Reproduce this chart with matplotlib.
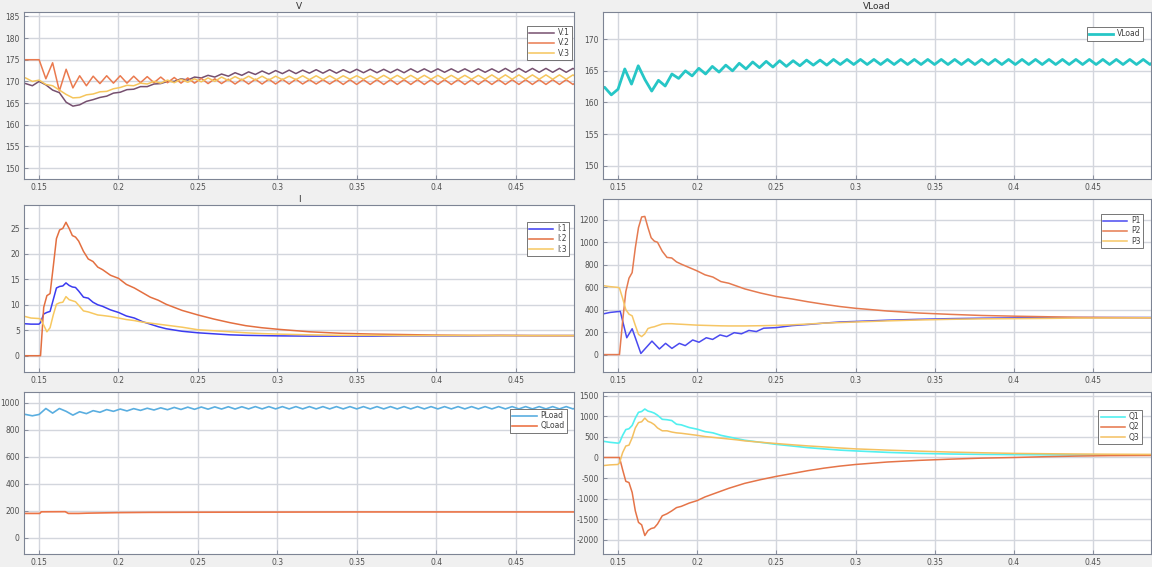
import numpy as np
import matplotlib
matplotlib.use('Agg')
import matplotlib.pyplot as plt

plt.rcParams['axes.unicode_minus'] = False
plt.rcParams['font.family'] = ['DejaVu Sans']

# sample grid for the rippling signals (half a ripple period apart)
t_r = 0.13735 + 0.00425 * np.arange(84)

v1 = [169.8, 169.5, 169.0, 170.0, 169.2, 168.0, 167.4, 165.2, 164.3, 164.6,
      165.4, 165.8, 166.3, 166.6, 167.3, 167.5, 168.1, 168.2, 168.8, 168.8,
      169.4, 169.5, 170.0, 170.0, 170.6, 170.3, 171.0, 170.8, 171.4, 171.0,
      171.7, 171.2, 172.0, 171.4, 172.2, 171.6, 172.4, 171.7, 172.5, 171.8,
      172.6, 171.8, 172.6, 171.9, 172.7, 171.9, 172.7, 171.9, 172.7, 172.0,
      172.8, 172.0, 172.8, 172.0, 172.8, 172.0, 172.8, 172.0, 172.9, 172.1,
      172.9, 172.1, 172.9, 172.1, 172.9, 172.1, 172.9, 172.1, 172.9, 172.1,
      172.9, 172.1, 173.0, 172.1, 173.0, 172.1, 173.0, 172.1, 173.0, 172.1,
      173.0, 172.1, 173.0, 172.1]
v2 = [175.0, 175.0, 175.0, 175.0, 170.6, 174.3, 167.8, 172.8, 168.5, 171.3,
      169.0, 171.2, 169.5, 171.3, 169.6, 171.3, 169.6, 171.2, 169.7, 171.1,
      169.7, 171.0, 169.7, 170.9, 169.6, 170.8, 169.6, 170.7, 169.5, 170.6,
      169.5, 170.5, 169.4, 170.5, 169.4, 170.5, 169.4, 170.5, 169.4, 170.5,
      169.4, 170.5, 169.4, 170.4, 169.4, 170.4, 169.4, 170.4, 169.3, 170.4,
      169.3, 170.4, 169.3, 170.4, 169.3, 170.4, 169.3, 170.4, 169.3, 170.4,
      169.3, 170.4, 169.3, 170.4, 169.3, 170.4, 169.3, 170.4, 169.3, 170.4,
      169.3, 170.4, 169.3, 170.4, 169.3, 170.4, 169.3, 170.4, 169.3, 170.4,
      169.3, 170.4, 169.3, 170.4]
v3 = [171.0, 170.8, 170.0, 170.3, 169.3, 169.0, 168.0, 167.0, 166.2, 166.3,
      166.9, 167.1, 167.6, 167.7, 168.3, 168.6, 169.1, 169.0, 169.6, 169.4,
      170.0, 169.6, 170.3, 169.7, 170.5, 169.8, 170.6, 169.9, 170.8, 170.0,
      171.0, 170.2, 171.1, 170.3, 171.2, 170.3, 171.2, 170.3, 171.2, 170.4,
      171.2, 170.4, 171.3, 170.4, 171.3, 170.4, 171.3, 170.4, 171.3, 170.5,
      171.3, 170.5, 171.3, 170.5, 171.4, 170.5, 171.4, 170.5, 171.4, 170.5,
      171.4, 170.5, 171.4, 170.5, 171.4, 170.5, 171.4, 170.5, 171.4, 170.5,
      171.5, 170.5, 171.5, 170.5, 171.5, 170.5, 171.5, 170.5, 171.5, 170.5,
      171.5, 170.5, 171.5, 170.5]
v_load = [162.0, 162.4, 161.2, 162.1, 165.3, 162.9, 165.8, 163.6, 161.8, 163.5,
          162.6, 164.5, 163.8, 165.0, 164.2, 165.4, 164.5, 165.7, 164.8, 165.9,
          165.0, 166.2, 165.3, 166.4, 165.5, 166.5, 165.6, 166.6, 165.7, 166.6,
          165.8, 166.7, 165.9, 166.7, 165.9, 166.8, 166.0, 166.8, 166.0, 166.8,
          166.0, 166.8, 166.0, 166.8, 166.0, 166.8, 166.0, 166.8, 166.0, 166.8,
          166.0, 166.8, 166.0, 166.8, 166.0, 166.8, 166.0, 166.8, 166.0, 166.8,
          166.0, 166.8, 166.0, 166.8, 166.0, 166.8, 166.0, 166.8, 166.0, 166.8,
          166.0, 166.8, 166.0, 166.8, 166.0, 166.8, 166.0, 166.8, 166.0, 166.8,
          166.0, 166.8, 166.0, 166.8]
p_load = [915, 912, 902, 912, 956, 922, 956, 935, 907, 932,
          918, 940, 928, 948, 935, 952, 938, 955, 942, 958,
          945, 961, 947, 964, 949, 966, 950, 967, 951, 968,
          952, 969, 952, 969, 953, 970, 953, 970, 953, 970,
          953, 970, 953, 970, 953, 970, 953, 970, 953, 970,
          953, 970, 953, 970, 953, 970, 953, 970, 953, 970,
          953, 970, 953, 970, 953, 970, 953, 970, 953, 970,
          953, 970, 953, 970, 953, 970, 953, 970, 953, 970,
          953, 970, 953, 970]

# sample times for the smoother signals
t_b = [0.140, 0.145, 0.150, 0.151, 0.153, 0.155, 0.157, 0.159, 0.161, 0.163,
       0.165, 0.167, 0.169, 0.171, 0.173, 0.175, 0.178, 0.181, 0.184, 0.187,
       0.190, 0.195, 0.200, 0.205, 0.210, 0.215, 0.220, 0.225, 0.230, 0.240,
       0.250, 0.260, 0.270, 0.280, 0.290, 0.300, 0.320, 0.340, 0.360, 0.380,
       0.400, 0.420, 0.440, 0.460, 0.490]

i1 = [6.3, 6.2, 6.2, 6.5, 8.2, 8.5, 8.7, 11.0, 13.3, 13.6,
      13.7, 14.3, 13.8, 13.5, 13.4, 12.7, 11.5, 11.3, 10.5, 10.0,
      9.7, 9.0, 8.5, 7.8, 7.4, 6.7, 6.2, 5.7, 5.3, 4.8,
      4.5, 4.3, 4.1, 4.0, 3.95, 3.9, 3.85, 3.85, 3.85, 3.9,
      3.9, 3.9, 3.95, 3.95, 3.95]
i2 = [0, 0, 0, 0, 9.5, 11.8, 12.2, 17.5, 23.0, 24.7,
      25.0, 26.2, 25.0, 23.6, 23.3, 22.5, 20.5, 19.0, 18.5, 17.4,
      16.9, 15.8, 15.2, 14.0, 13.3, 12.4, 11.5, 10.9, 10.1, 8.9,
      8.0, 7.2, 6.5, 5.9, 5.5, 5.2, 4.7, 4.4, 4.25, 4.15,
      4.05, 4.0, 4.0, 3.95, 3.95]
i3 = [7.8, 7.4, 7.3, 7.2, 6.0, 4.7, 5.5, 8.0, 10.1, 10.4,
      10.5, 11.6, 11.0, 10.8, 10.6, 9.9, 8.8, 8.6, 8.3, 8.0,
      7.9, 7.7, 7.4, 7.1, 6.9, 6.6, 6.4, 6.2, 6.0, 5.6,
      5.1, 4.9, 4.7, 4.5, 4.35, 4.25, 4.1, 4.0, 4.0, 3.95,
      3.95, 3.95, 3.95, 3.95, 3.95]

t_p1 = [0.140, 0.145, 0.1515, 0.1556, 0.159, 0.1645, 0.1715, 0.1762, 0.1801, 0.1841,
        0.1888, 0.1925, 0.1972, 0.2012, 0.2058, 0.2098, 0.2145, 0.2187, 0.2234, 0.228,
        0.2327, 0.2374, 0.242, 0.250, 0.260, 0.270, 0.280, 0.290, 0.300, 0.320,
        0.340, 0.360, 0.380, 0.400, 0.440, 0.490]
p1 = [360, 375, 385, 150, 230, 10, 120, 50, 100, 55,
      100, 80, 130, 110, 150, 135, 175, 160, 195, 185,
      215, 205, 235, 240, 258, 268, 280, 290, 295, 306,
      314, 320, 324, 327, 330, 330]
p2 = [0, 0, 0, 0, 300, 560, 680, 730, 950, 1130,
      1225, 1230, 1130, 1040, 1010, 1000, 920, 865, 860, 825,
      805, 775, 745, 710, 690, 650, 635, 610, 585, 548,
      517, 495, 470, 448, 428, 412, 388, 370, 358, 348,
      342, 337, 332, 330, 328]
p3 = [615, 605, 598, 592, 500, 400, 360, 345, 260, 180,
      160, 185, 232, 242, 248, 258, 272, 275, 275, 272,
      270, 266, 262, 260, 258, 256, 255, 255, 255, 257,
      260, 265, 272, 280, 285, 290, 300, 308, 314, 318,
      320, 322, 325, 326, 328]

q1 = [400, 370, 350, 360, 540, 680, 700, 780, 960, 1100,
      1120, 1180, 1130, 1110, 1080, 1030, 930, 920, 900, 810,
      795, 730, 690, 630, 600, 540, 500, 460, 420, 370,
      320, 280, 240, 210, 180, 160, 125, 100, 85, 75,
      70, 67, 64, 62, 60]
q2 = [0, 0, 0, 0, -300, -580, -610, -850, -1300, -1580,
      -1640, -1900, -1780, -1730, -1710, -1620, -1420, -1370, -1300, -1220,
      -1190, -1110, -1050, -960, -890, -820, -750, -690, -630, -540,
      -460, -390, -320, -260, -210, -170, -110, -70, -40, -15,
      0, 20, 35, 45, 50]
q3 = [-200, -180, -170, -130, 120, 280, 300, 480, 720, 850,
      870, 960, 880, 850, 800, 720, 650, 650, 620, 600,
      590, 565, 540, 510, 490, 470, 450, 430, 405, 372,
      340, 310, 282, 258, 232, 210, 180, 155, 132, 115,
      100, 92, 85, 80, 75]

t_ql = [0.140, 0.1505, 0.1515, 0.1665, 0.1685, 0.175, 0.180, 0.190, 0.200, 0.220,
        0.250, 0.300, 0.350, 0.400, 0.490]
q_load = [180, 180, 192, 193, 180, 180, 182, 184, 186, 188,
          189, 190, 191, 191, 191]

x_ticks = [0.15, 0.2, 0.25, 0.3, 0.35, 0.4, 0.45]
x_tick_labels = ['0.15', '0.2', '0.25', '0.3', '0.35', '0.4', '0.45']

W, H = 1152, 567
fig = plt.figure(figsize=(W / 100, H / 100), dpi=100, facecolor='#f0f0f0')


def make_axes(left, top, right, bottom):
    ax = fig.add_axes([left / W, 1 - bottom / H, (right - left) / W, (bottom - top) / H])
    ax.set_facecolor('white')
    ax.set_xlim(0.1406, 0.4865)
    ax.set_xticks(x_ticks)
    ax.set_xticklabels(x_tick_labels)
    ax.grid(True, color='#d3d6dd', linewidth=1.0)
    ax.set_axisbelow(True)
    ax.tick_params(direction='in', length=3, width=0.6, colors='#7d8494',
                   labelsize=5.5, labelcolor='#505050', pad=3)
    for s in ax.spines.values():
        s.set_color('#7d8494')
        s.set_linewidth(0.8)
    return ax


def add_legend(ax, dx, dy):
    bb = ax.get_position()
    w = bb.width * W
    h = bb.height * H
    leg = ax.legend(loc='upper right', bbox_to_anchor=(1 - dx / w, 1 - dy / h),
                    fontsize=5.5, fancybox=False, framealpha=1, edgecolor='#606060',
                    borderpad=0.3, labelspacing=0.15, handlelength=3.2,
                    handletextpad=0.5, borderaxespad=0)
    leg.get_frame().set_linewidth(0.6)
    for txt in leg.get_texts():
        txt.set_color('#404040')
    return leg


# V
ax = make_axes(24, 12, 574, 179)
ax.plot(t_r, v1, color='#76506f', lw=1.1, label='V:1')
ax.plot(t_r, v2, color='#ea7a4f', lw=1.1, label='V:2')
ax.plot(t_r, v3, color='#f5c55c', lw=1.1, label='V:3')
ax.set_ylim(147.5, 186.0)
ax.set_yticks(np.arange(150, 186, 5))
ax.set_title('V', fontsize=6.5, color='#333333', pad=2)
add_legend(ax, 2, 14)

# VLoad
ax = make_axes(603, 12, 1151, 179)
ax.plot(t_r, v_load, color='#26c6c6', lw=2.0, label='VLoad')
ax.set_ylim(147.9, 174.3)
ax.set_yticks(np.arange(150, 171, 5))
ax.set_title('VLoad', fontsize=6.5, color='#333333', pad=2)
add_legend(ax, 8, 15)

# I
ax = make_axes(24, 205, 574, 372)
ax.plot(t_b, i1, color='#3b3bf0', lw=1.1, label='I:1')
ax.plot(t_b, i2, color='#e36f40', lw=1.1, label='I:2')
ax.plot(t_b, i3, color='#f7c860', lw=1.1, label='I:3')
ax.set_ylim(-3.2, 29.6)
ax.set_yticks(np.arange(0, 26, 5))
ax.set_title('I', fontsize=6.5, color='#333333', pad=2)
add_legend(ax, 5, 17)

# P
ax = make_axes(603, 199, 1151, 372)
ax.plot(t_p1, p1, color='#4a4af0', lw=1.1, label='P1')
ax.plot(t_b, p2, color='#e57a50', lw=1.1, label='P2')
ax.plot(t_b, p3, color='#f6c665', lw=1.1, label='P3')
ax.set_ylim(-155, 1385)
ax.set_yticks(np.arange(0, 1201, 200))
add_legend(ax, 8, 15)

# PLoad / QLoad
ax = make_axes(24, 392, 574, 554)
ax.plot(t_r, p_load, color='#5aaee0', lw=1.2, label='PLoad')
ax.plot(t_ql, q_load, color='#ec7447', lw=1.2, label='QLoad')
ax.set_ylim(-120, 1078)
ax.set_yticks(np.arange(0, 1001, 200))
add_legend(ax, 7, 17)

# Q
ax = make_axes(603, 392, 1151, 554)
ax.plot(t_b, q1, color='#52f0f0', lw=1.2, label='Q1')
ax.plot(t_b, q2, color='#e57448', lw=1.1, label='Q2')
ax.plot(t_b, q3, color='#f4c060', lw=1.1, label='Q3')
ax.set_ylim(-2350, 1595)
ax.set_yticks(np.arange(-2000, 1501, 500))
add_legend(ax, 9, 18)

fig.savefig('out.png', dpi=100, facecolor=fig.get_facecolor())
